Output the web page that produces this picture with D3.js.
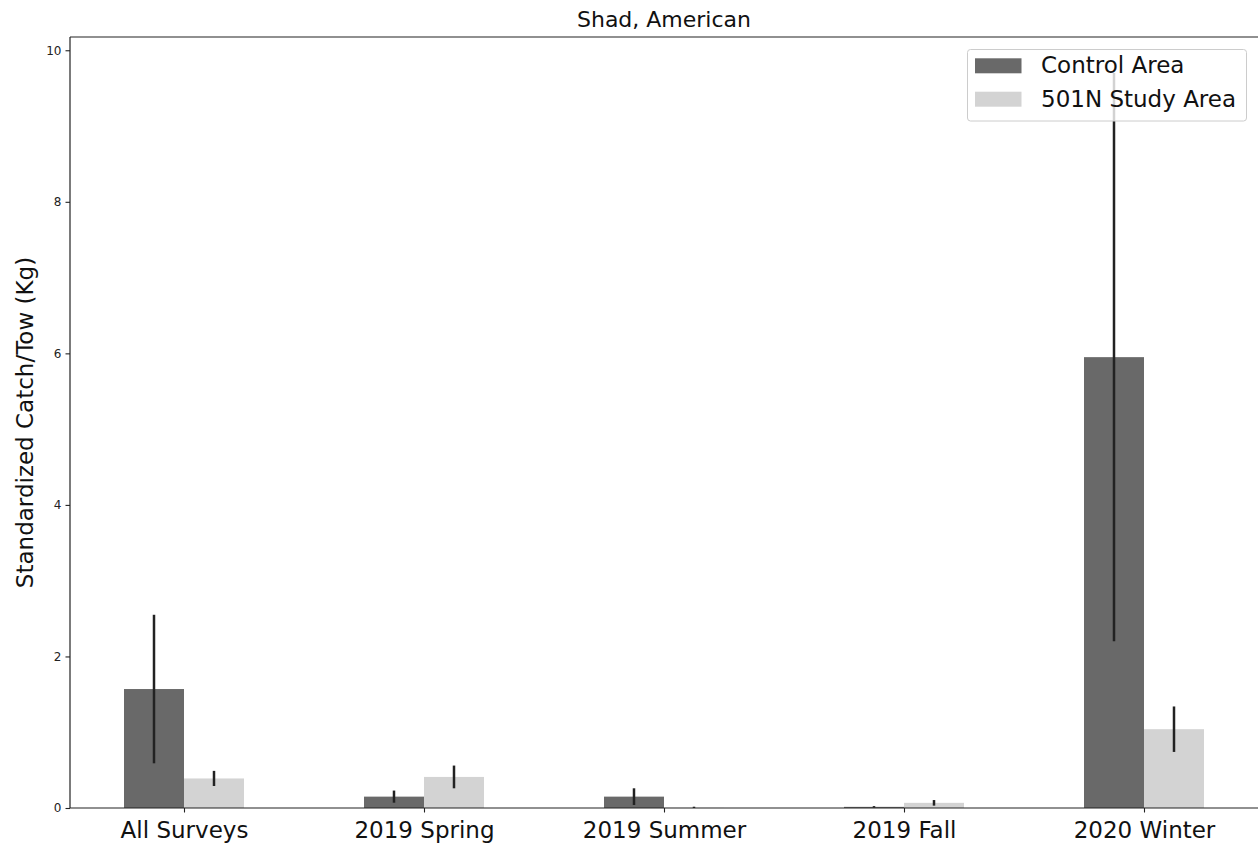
<!DOCTYPE html>
<html>
<head>
<meta charset="utf-8">
<script src="https://cdn.jsdelivr.net/npm/d3@7"></script>
<style>
  html, body { margin: 0; padding: 0; background: #fff; }
  svg { display: block; font-family: "DejaVu Sans", sans-serif; }
</style>
</head>
<body>
<script>
const categories = ["All Surveys", "2019 Spring", "2019 Summer", "2019 Fall", "2020 Winter"];
const controlValues = [1.57, 0.15, 0.15, 0.015, 5.95];
const controlErrors = [0.98, 0.08, 0.11, 0.01, 3.75];
const studyValues = [0.39, 0.41, 0.002, 0.068, 1.04];
const studyErrors = [0.10, 0.15, 0.015, 0.037, 0.30];
const yTicks = [0, 2, 4, 6, 8, 10];
const seriesNames = ["Control Area", "501N Study Area"];
const seriesColors = ["#696969", "#d3d3d3"];
const titleText = "Shad, American";
const yLabelText = "Standardized Catch/Tow (Kg)";

(function () {
const W = 1258, H = 843;
const mLeft = 70, mRight = 1258, mTop = 37, mBottom = 808;

const svg = d3.select("body").append("svg").attr("width", W).attr("height", H);

const x = d3.scaleLinear().domain([-0.475, 4.475]).range([mLeft, mRight]);
const y = d3.scaleLinear().domain([0, 10.175]).range([mBottom, mTop]);
const barW = 0.25;

const series = [
  { name: seriesNames[0], values: controlValues, errors: controlErrors, offset: -barW / 2, color: seriesColors[0] },
  { name: seriesNames[1], values: studyValues, errors: studyErrors, offset: barW / 2, color: seriesColors[1] }
];

// bars
series.forEach(s => {
  svg.append("g").selectAll("rect").data(categories).join("rect")
    .attr("x", (d, i) => x(i + s.offset - barW / 2))
    .attr("width", (d, i) => x(i + s.offset + barW / 2) - x(i + s.offset - barW / 2))
    .attr("y", (d, i) => y(s.values[i]))
    .attr("height", (d, i) => y(0) - y(s.values[i]))
    .attr("fill", s.color);
});

// error bars
series.forEach(s => {
  svg.append("g").selectAll("line").data(categories).join("line")
    .attr("x1", (d, i) => x(i + s.offset))
    .attr("x2", (d, i) => x(i + s.offset))
    .attr("y1", (d, i) => y(Math.max(0, s.values[i] - s.errors[i])))
    .attr("y2", (d, i) => y(s.values[i] + s.errors[i]))
    .attr("stroke", "#222")
    .attr("stroke-width", 2.5);
});

// spines
const spine = svg.append("g").attr("stroke", "#222").attr("stroke-width", 1.2).attr("fill", "none");
spine.append("line").attr("x1", mLeft).attr("x2", mLeft).attr("y1", mTop).attr("y2", mBottom);
spine.append("line").attr("x1", mLeft).attr("x2", mRight).attr("y1", mTop).attr("y2", mTop);
spine.append("line").attr("x1", mLeft).attr("x2", mRight).attr("y1", mBottom).attr("y2", mBottom);

// y axis
const yAxis = d3.axisLeft(y).tickValues(yTicks).tickFormat(d3.format("d")).tickSize(4.5).tickPadding(4);
const gy = svg.append("g").attr("transform", `translate(${mLeft},0)`).call(yAxis);
gy.select(".domain").remove();
gy.selectAll(".tick line").attr("stroke", "#222").attr("stroke-width", 1.1);
gy.selectAll(".tick text").attr("font-size", 12).attr("fill", "#222").attr("font-family", "DejaVu Sans");

// x axis
const xAxis = d3.axisBottom(x).tickValues(categories.map((d, i) => i)).tickFormat(i => categories[i]).tickSize(4.5).tickPadding(9);
const gx = svg.append("g").attr("transform", `translate(0,${mBottom})`).call(xAxis);
gx.select(".domain").remove();
gx.selectAll(".tick line").attr("stroke", "#222").attr("stroke-width", 1.1);
gx.selectAll(".tick text").attr("font-size", 23).attr("fill", "#111").attr("font-family", "DejaVu Sans");

// title
svg.append("text").attr("x", (mLeft + mRight) / 2).attr("y", 27)
  .attr("text-anchor", "middle").attr("font-size", 22).attr("fill", "#111").text(titleText);

// y label
svg.append("text").attr("transform", `translate(33,${(mTop + mBottom) / 2}) rotate(-90)`)
  .attr("text-anchor", "middle").attr("font-size", 23).attr("fill", "#111").text(yLabelText);

// legend
const lg = svg.append("g");
lg.append("rect").attr("x", 967.5).attr("y", 49.5).attr("width", 279).attr("height", 71.5)
  .attr("rx", 3).attr("fill", "#fff").attr("fill-opacity", 0.8).attr("stroke", "#cccccc").attr("stroke-width", 1);
series.forEach((s, k) => {
  const yy = 58.3 + k * 33.4;
  lg.append("rect").attr("x", 975).attr("y", yy).attr("width", 46.5).attr("height", 15).attr("fill", s.color);
  lg.append("text").attr("x", 1041).attr("y", yy + 15).attr("font-size", 23).attr("fill", "#111").text(s.name);
});
})();
</script>
</body>
</html>
